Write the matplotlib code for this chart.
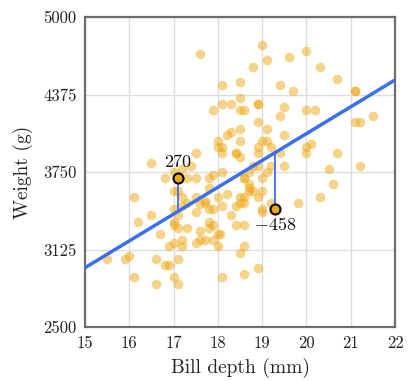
import matplotlib
matplotlib.use("Agg")
import matplotlib.pyplot as plt
import numpy as np

# Data: bill depth (mm) and weight (g)
bill_depth = [
    17.6, 19.0, 19.1, 18.8, 19.6, 20.0, 20.3, 20.7, 21.1, 21.1,
    18.1, 18.5, 19.4, 19.7, 18.5, 18.1, 18.3, 18.9, 18.9, 17.9,
    18.5, 18.6, 19.5, 20.0, 20.2, 19.4, 21.5, 21.1, 21.2, 18.9,
    19.1, 18.5, 18.3, 18.2, 19.5, 18.0, 18.5, 19.0, 19.1, 18.0,
    18.1, 18.9, 19.2, 18.1, 18.4, 18.4, 18.5, 18.9, 20.0, 20.1,
    20.0, 20.7, 19.4, 17.5, 16.5, 17.4, 19.5, 19.2, 18.8, 18.9,
    20.5, 21.2, 16.8, 17.0, 17.3, 17.5, 17.8, 17.9, 18.1, 18.7,
    19.1, 18.6, 18.6, 19.0, 17.2, 17.0, 17.8, 20.6, 18.7, 18.8,
    18.7, 19.0, 17.1, 16.1, 17.2, 17.5, 18.0, 18.2, 18.5, 18.6,
    18.9, 19.2, 19.8, 20.3, 17.7, 18.1, 17.8, 17.9, 17.3, 17.2,
    17.5, 18.3, 17.0, 17.1, 17.0, 17.0, 17.1, 17.3, 17.6, 17.8,
    17.8, 17.9, 18.0, 16.5, 16.2, 16.7, 17.2, 17.0, 17.5, 17.6,
    17.7, 17.9, 18.0, 16.9, 17.2, 15.5, 15.9, 16.0, 16.6, 16.8,
    16.9, 17.1, 16.1, 16.6, 17.0, 17.1, 18.1, 18.6, 18.9, 18.6,
    18.5, 18.4, 18.6, 18.6, 18.5, 18.4, 19.0, 19.0, 18.7, 18.05,
    17.6, 17.7,
]
weight = [
    4700, 4775, 4650, 4600, 4675, 4725, 4600, 4500, 4400, 4400,
    4450, 4475, 4450, 4400, 4350, 4300, 4300, 4300, 4300, 4250,
    4250, 4250, 4275, 4250, 4250, 4200, 4200, 4150, 4150, 4150,
    4100, 4100, 4075, 4050, 4050, 4000, 4000, 4000, 4000, 3950,
    3950, 3950, 3950, 3900, 3900, 3900, 3875, 3900, 3950, 3975,
    3900, 3900, 3900, 3900, 3825, 3800, 3800, 3800, 3800, 3800,
    3775, 3800, 3700, 3750, 3700, 3700, 3700, 3725, 3750, 3750,
    3750, 3700, 3700, 3700, 3775, 3600, 3625, 3650, 3650, 3600,
    3600, 3600, 3600, 3550, 3550, 3550, 3550, 3575, 3550, 3550,
    3550, 3500, 3500, 3550, 3500, 3475, 3450, 3450, 3500, 3475,
    3425, 3400, 3450, 3400, 3350, 3325, 3300, 3300, 3275, 3350,
    3300, 3325, 3250, 3400, 3350, 3250, 3200, 3175, 3175, 3200,
    3200, 3200, 3150, 3150, 3150, 3050, 3050, 3075, 3050, 3000,
    3000, 3050, 2900, 2850, 2900, 2850, 2900, 2925, 2975, 3150,
    3100, 3325, 3325, 3500, 3500, 3475, 3450, 3425, 3625, 3250,
    3490, 3515,
]

# Regression line endpoints
line_x = [15, 22]
line_y = [2978, 4492]

# Highlighted points
hi_x = [17.1, 19.3]
hi_y = [3702, 3450]

x_ticks = [15, 16, 17, 18, 19, 20, 21, 22]
y_ticks = [2500, 3125, 3750, 4375, 5000]

plt.rcParams['font.family'] = 'cmr10'
plt.rcParams['mathtext.fontset'] = 'cm'
plt.rcParams['axes.unicode_minus'] = False

fig = plt.figure(figsize=(4.11, 3.81), dpi=100)
ax = fig.add_axes([85/411, 1-327/381, 310/411, 310/381])

pt_color = '#EEA814'
blue = '#3C6FEF'

ax.scatter(bill_depth, weight, s=48, color=pt_color, alpha=0.5, linewidths=0, zorder=2)

ax.plot(line_x, line_y, color=blue, lw=2.5, zorder=3, solid_capstyle='butt')

slope = (line_y[1] - line_y[0]) / (line_x[1] - line_x[0])
for hx, hy in zip(hi_x, hi_y):
    fitted = line_y[0] + slope * (hx - line_x[0])
    ax.plot([hx, hx], [fitted, hy], color=blue, lw=1.3, zorder=3)
    ax.scatter([hx], [hy], s=52, color='#EBA90C', edgecolors='black', linewidths=1.5, zorder=5)
    res = int(round(hy - fitted))
    if res >= 0:
        ax.annotate(f'{res}', (hx, hy), xytext=(0, 6), textcoords='offset points',
                    ha='center', va='bottom', fontsize=13, color='#111111')
    else:
        ax.annotate(f'${res}$', (hx, hy), xytext=(0, -5), textcoords='offset points',
                    ha='center', va='top', fontsize=13, color='#111111')

ax.set_xlim(15, 22)
ax.set_ylim(2500, 5000)
ax.set_xticks(x_ticks)
ax.set_yticks(y_ticks)
ax.set_xticklabels([str(v) for v in x_ticks])
ax.set_yticklabels([str(v) for v in y_ticks])
ax.tick_params(length=0, labelsize=12, pad=6, colors='#222222')
ax.grid(True, color='#dddddd', lw=1, zorder=0)
ax.set_axisbelow(True)
for sp in ax.spines.values():
    sp.set_color('#6e6e6e')
    sp.set_linewidth(1.6)

ax.set_xlabel('Bill depth (mm)', fontsize=14, labelpad=5, color='#222222')
ax.set_ylabel('Weight (g)', fontsize=14, labelpad=7, color='#222222')

fig.savefig('out.png', dpi=100)
